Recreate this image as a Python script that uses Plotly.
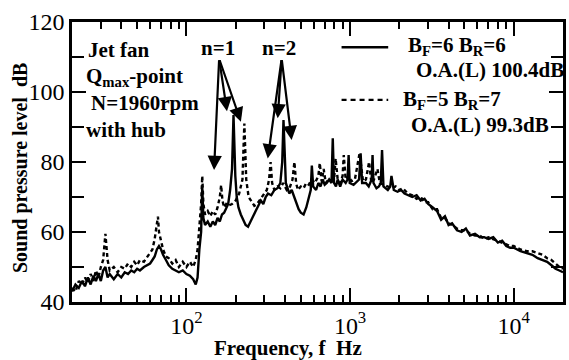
import plotly.graph_objects as go

# Solid series: B_F=6 B_R=6
f_solid = [20, 21, 22, 23, 24, 25, 26, 27, 28, 29, 30, 31, 32, 33, 34, 36, 38, 40, 42, 44,
           46, 48, 50, 52, 55, 58, 60, 62, 64, 66, 68, 70, 72, 75, 78, 82, 86, 90, 95, 100,
           105, 110, 114, 117, 120, 123, 125, 127, 130, 135, 140, 145, 150, 155, 160, 165, 170, 175, 180, 185,
           190, 194, 199, 203, 208, 215, 222, 230, 238, 246, 255, 265, 275, 285, 295, 305, 315, 330, 345, 360,
           375, 385, 392, 399, 405, 415, 425, 440, 455, 470, 485, 500, 520, 540, 560, 575, 584, 595, 620, 640,
           660, 680, 700, 720, 745, 770, 784, 798, 820, 840, 870, 900, 940, 965, 980, 995, 1050, 1100, 1135, 1160,
           1185, 1250, 1300, 1355, 1372, 1390, 1450, 1500, 1540, 1568, 1600, 1700, 1760, 1790, 1850, 1950, 2050, 2150, 2250, 2400,
           2550, 2700, 2850, 3000, 3200, 3400, 3600, 3800, 4000, 4200, 4500, 4800, 5100, 5400, 5800, 6200, 6600, 7000, 7500, 8000,
           8500, 9000, 9500, 10000, 11000, 12000, 13000, 14000, 15000, 16000, 17000, 18000, 19000, 20000]
db_solid = [43, 45, 44, 46, 44.5, 47, 45, 47.5, 46, 48, 46, 49, 50, 47, 48, 46.5, 48, 47, 48.5, 48,
            49, 48.5, 49.5, 49, 50, 50.5, 51, 52, 53, 55, 56, 55, 53.5, 52, 50.5, 49.5, 49, 48.5, 49, 48,
            47.5, 46.5, 45, 47, 55, 60, 73, 64, 62, 63, 61.5, 63, 62, 64, 63, 65, 65.5, 67, 68, 72,
            78, 93.4, 76, 70, 67, 65, 63.5, 62, 61.5, 63, 64.5, 66, 67.5, 69, 68, 70, 71, 70.5, 72, 72.5,
            74, 80, 92, 78, 74, 72.5, 71, 72, 70, 68, 66.5, 65.5, 65, 67, 70, 72, 79, 73, 72, 74,
            73, 75, 73.5, 74, 75, 74, 86.8, 74, 73, 75, 73, 75, 74, 75, 82, 74, 73.5, 74.5, 75, 82.5,
            74, 74, 73, 75, 82, 74, 72.5, 73, 74, 83.4, 73, 72, 73, 76, 72, 71.5, 72, 71, 70.5, 70,
            70.5, 69, 69.5, 68, 67, 66, 63.5, 64.5, 62, 62.5, 60.5, 60, 61, 59, 59.5, 58.5, 58.5, 58, 58.5, 57,
            57.5, 56, 55.5, 55.5, 54.5, 54, 53.5, 52.5, 52, 51.5, 50.5, 49.5, 49, 48.5]

# Dashed series: B_F=5 B_R=7
f_dash = [20, 21, 22, 23, 24, 25, 26, 27, 28, 29, 30, 31, 32, 33, 34, 36, 38, 40, 42, 44,
          46, 48, 50, 52, 55, 58, 60, 62, 64, 66, 67, 68, 70, 72, 75, 78, 82, 86, 90, 95,
          100, 105, 110, 114, 117, 120, 123, 125, 127, 130, 135, 140, 145, 150, 155, 160, 163, 166, 170, 175,
          180, 190, 200, 210, 220, 226, 232, 240, 250, 260, 270, 280, 290, 300, 310, 320, 327, 334, 345, 360,
          375, 390, 410, 430, 445, 457, 468, 480, 500, 520, 540, 560, 581, 610, 640, 653, 670, 690, 710, 740,
          770, 800, 816, 840, 870, 900, 915, 940, 980, 1020, 1070, 1143, 1200, 1250, 1307, 1350, 1400, 1470, 1520, 1600,
          1700, 1800, 1900, 2000, 2100, 2250, 2400, 2550, 2700, 2850, 3000, 3200, 3400, 3600, 3800, 4000, 4200, 4500, 4800, 5100,
          5400, 5800, 6200, 6600, 7000, 7500, 8000, 8500, 9000, 9500, 10000, 11000, 12000, 13000, 14000, 15000, 16000, 17000, 18000, 19000,
          20000]
db_dash = [44, 43, 46, 45, 47, 45.5, 48, 46, 49, 47, 50, 52, 59.5, 52, 49, 50, 48.5, 50, 49.5, 51,
           50, 51.5, 50.5, 52, 51.5, 53, 54, 55, 58, 62, 64.4, 60, 57, 55, 53, 52.5, 51, 52, 50, 51.5,
           50, 51.5, 50, 52, 55, 62, 68, 76, 68, 65, 66, 64.5, 66, 65, 67, 70, 73.4, 69, 67, 68,
           67.5, 68, 69, 71, 75, 91, 75, 70, 68.5, 67.5, 68, 69, 70, 71, 72, 75, 80, 74, 72, 73,
           72.5, 74, 72, 73, 75, 80, 74, 72, 73, 72.5, 74, 73.5, 75, 74, 76, 79.7, 74.5, 78, 74, 75,
           74.5, 75.5, 81, 75, 74, 76, 82, 75, 76, 74.5, 75, 82.5, 74.5, 75, 80, 74, 75, 78, 74, 73.5,
           73, 72.5, 73, 72, 72.5, 71, 70.5, 69.5, 70, 68.5, 68.5, 66.5, 66.5, 64, 64, 62.5, 62, 61, 60.5, 60.5,
           59.5, 59, 59, 58, 58.5, 58, 57.5, 57, 56.5, 56, 56, 55, 54.5, 54.5, 54, 53.5, 52.5, 52, 51, 50,
           49.5]

y_ticks = [40, 60, 80, 100, 120]
y_minor = [50, 70, 90, 110]
x_ticks = [100, 1000, 10000]
x_ticktext = ["10<sup>2</sup>", "10<sup>3</sup>", "10<sup>4</sup>"]
x_minor = [m * 10 ** e for e in (1, 2, 3) for m in range(2, 10) if 20 <= m * 10 ** e <= 20000] + [20000]

FONT = "Liberation Serif"
INK = "black"

fig = go.Figure()
fig.add_trace(go.Scatter(x=f_dash, y=db_dash, mode="lines",
                         line=dict(color=INK, width=2.4, dash="4px,3px"), showlegend=False))
fig.add_trace(go.Scatter(x=f_solid, y=db_solid, mode="lines",
                         line=dict(color=INK, width=2.4), showlegend=False))

fig.update_xaxes(type="log", range=[1.301, 4.301],
                 tickvals=x_ticks, ticktext=x_ticktext,
                 ticks="inside", ticklen=14, tickwidth=2, tickcolor=INK,
                 minor=dict(tickvals=x_minor, ticks="inside", ticklen=7, tickwidth=2, tickcolor=INK, showgrid=False),
                 showline=True, linecolor=INK, linewidth=2.5, mirror="ticks",
                 showgrid=False, zeroline=False,
                 tickfont=dict(family=FONT, size=24, color=INK))
fig.update_yaxes(range=[40, 120], tickvals=y_ticks,
                 ticks="inside", ticklen=14, tickwidth=2, tickcolor=INK,
                 minor=dict(tickvals=y_minor, ticks="inside", ticklen=12, tickwidth=2, tickcolor=INK, showgrid=False),
                 showline=True, linecolor=INK, linewidth=2.5, mirror="ticks",
                 showgrid=False, zeroline=False,
                 tickfont=dict(family=FONT, size=24, color=INK))

anns = []
def txt(text, x, y, xanchor="left", size=21, xref="paper", yref="paper", angle=0):
    anns.append(dict(text=text, x=x, y=y, xref=xref, yref=yref, xanchor=xanchor, yanchor="middle",
                     showarrow=False, textangle=angle,
                     font=dict(family=FONT, size=size, color=INK, weight="bold")))

txt("Jet fan", 0.028, 0.90)
txt("Q<sub>max</sub>-point", 0.024, 0.805)
txt("N=1960rpm", 0.034, 0.71)
txt("with hub", 0.024, 0.615)
txt("B<sub>F</sub>=6 B<sub>R</sub>=6", 0.680, 0.915)
txt("O.A.(L) 100.4dB", 1.006, 0.828, xanchor="right")
txt("B<sub>F</sub>=5 B<sub>R</sub>=7", 0.670, 0.722)
txt("O.A.(L) 99.3dB", 0.976, 0.632, xanchor="right")
txt("n=1", 2.19, 112.5, xanchor="center", xref="x", yref="y")
txt("n=2", 2.565, 112.5, xanchor="center", xref="x", yref="y")
txt("Frequency, f  Hz", 0.44, -0.165, xanchor="center", size=21)
txt("Sound pressure level  dB", -0.105, 0.48, xanchor="center", size=20, angle=-90)

arrows = [((2.2, 109.5), (2.169, 77.7)), ((2.2, 109.5), (2.248, 94.5)), ((2.2, 109.5), (2.333, 91.5)),
          ((2.582, 109.5), (2.497, 81.0)), ((2.582, 109.5), (2.558, 92.5)), ((2.582, 109.5), (2.643, 86.3))]
for (tx, ty), (hx, hy) in arrows:
    anns.append(dict(x=hx, y=hy, ax=tx, ay=ty, xref="x", yref="y", axref="x", ayref="y",
                     text="", showarrow=True, arrowhead=2, arrowsize=1.3, arrowwidth=2.2, arrowcolor=INK))

fig.update_layout(annotations=anns)
fig.add_shape(type="line", xref="paper", yref="paper", x0=0.549, x1=0.644, y0=0.91, y1=0.91,
              line=dict(color=INK, width=2.4))
fig.add_shape(type="line", xref="paper", yref="paper", x0=0.549, x1=0.644, y0=0.722, y1=0.722,
              line=dict(color=INK, width=2.4, dash="5px,4px"))

fig.update_layout(width=569, height=360, margin=dict(l=72, r=3, t=22, b=58),
                  plot_bgcolor="white", paper_bgcolor="white", showlegend=False)

fig.write_html("out.html", config={"displayModeBar": False},
               post_script="document.body.style.margin='0';document.body.style.overflow='hidden';")
